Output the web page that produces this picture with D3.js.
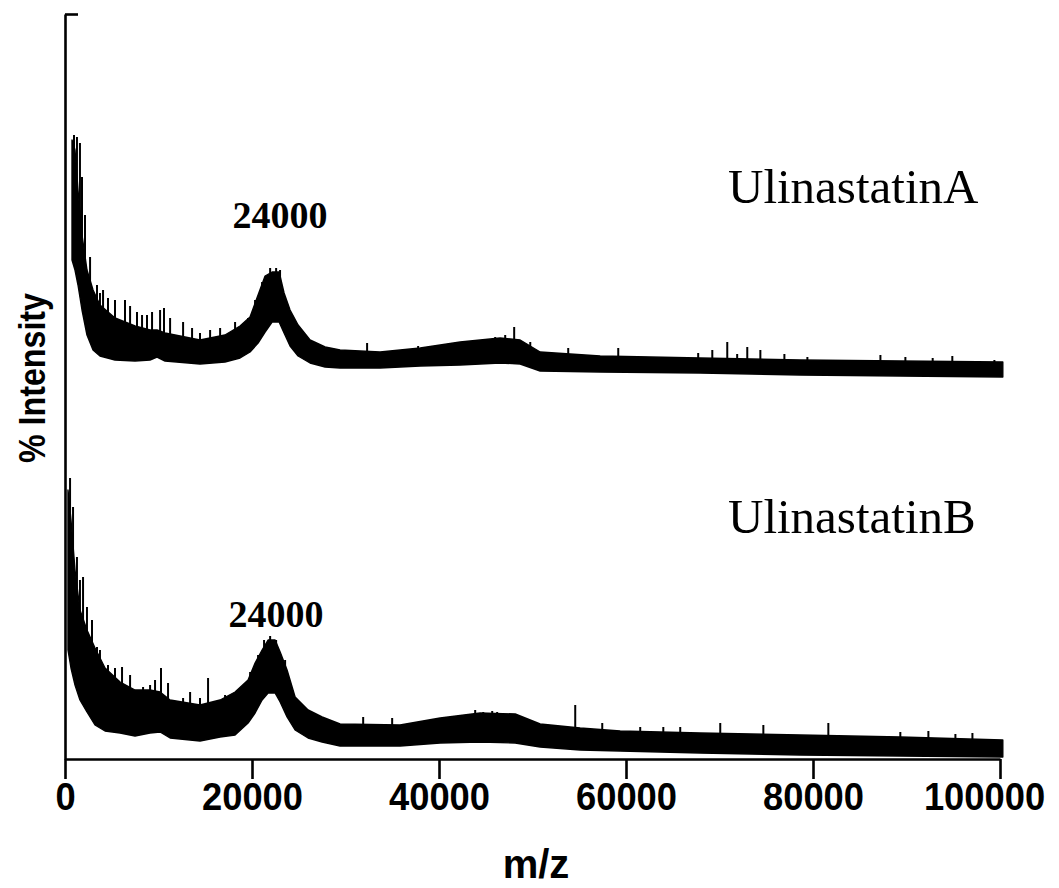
<!DOCTYPE html>
<html lang="en">
<head>
<meta charset="utf-8">
<title>Ulinastatin MALDI spectra</title>
<script src="https://d3js.org/d3.v7.min.js"></script>
<style>
  body { margin: 0; background: #fff; }
  .axis path, .axis line { stroke: #000; stroke-width: 2.6px; }
  .axis text { font-family: "Liberation Sans", Arial, sans-serif; font-weight: bold; font-size: 39px; fill: #000; }
  .trace { fill: #000; stroke: #000; stroke-width: 1.4px; stroke-linejoin: round; }
  .spike { stroke: #000; stroke-width: 2px; }
</style>
</head>
<body>
<svg width="1059" height="888"></svg>
<script>
// x ticks
var xTicks = [0, 20000, 40000, 60000, 80000, 100000];

// Ulinastatin A : band of the trace (upper / lower edge), m/z
var mzA = [750, 1070, 1390, 1820, 2350, 3000, 3740, 5350, 7490, 9090, 9840, 10700, 14440, 17110,
  18720, 19790, 20650, 21400, 22150, 22900, 23430, 24070, 24930, 26210, 27820, 29420, 33700,
  37990, 42260, 46540, 48680, 50820, 57240, 67940, 78640, 89340, 100300];
var hiA = [123.8, 121.8, 113.8, 104.8, 97.8, 93.8, 90.8, 88.2, 86.6, 85.8, 85.8, 85.2, 83.8, 84.8,
  86.6, 88.4, 92.8, 96.6, 97.4, 97.4, 93.2, 89.8, 86.8, 83.8, 82.4, 81.8, 81.4,
  82.2, 83.4, 84.2, 83.8, 81.4, 80.6, 80.2, 79.8, 79.6, 79.4];
var loA = [99.8, 97.8, 94.8, 89.8, 84.8, 81.8, 80.6, 79.8, 79.6, 79.8, 80.4, 79.6, 79.0, 79.4,
  80.2, 81.4, 83.2, 85.4, 87.4, 87.4, 85.2, 82.6, 80.6, 79.2, 78.4, 78.2, 78.2,
  78.6, 78.8, 79.2, 79.0, 77.6, 77.4, 77.2, 76.8, 76.6, 76.4];
// single spikes sticking out of the band: [m/z, top]
var spikesA = [[960, 124.8], [1280, 124.4], [1600, 123.2], [1820, 116.4], [2140, 108.8], [2680, 100.4],
  [3420, 94.8], [3740, 93.2], [4070, 93.8], [4600, 92.2], [5350, 91.8], [6420, 91.8], [6960, 90.6],
  [7700, 89.4], [8240, 88.8], [8770, 88.8], [9310, 89.4], [10170, 89.8], [10590, 90.2], [11240, 88.2],
  [12630, 87.4], [13590, 86.2], [14440, 85.2], [15520, 85.8], [16590, 86.2], [18190, 87.4],
  [19580, 88.2], [20330, 91.8], [21080, 95.4], [21940, 98.2], [22580, 98.2], [23000, 97.8],
  [32310, 83.2], [37770, 82.6], [46010, 84.4], [47080, 84.8], [48040, 86.4], [49760, 83.4],
  [53820, 82.2], [59170, 82.2], [67720, 81.2], [69230, 81.8], [70830, 83.4], [71890, 81.0],
  [72970, 82.4], [74370, 81.8], [76940, 81.0], [79400, 80.4], [87210, 80.8], [89880, 80.4],
  [92800, 80.2], [94900, 80.6], [99400, 79.8]];

// Ulinastatin B
var mzB = [320, 640, 1070, 1600, 2350, 3210, 4280, 5890, 7490, 9090, 10170, 11240, 14440, 16590,
  18190, 19580, 20330, 21080, 21720, 22470, 23010, 23750, 24610, 26000, 27500, 29420, 35840,
  40120, 44400, 48150, 50820, 55100, 59380, 67940, 78640, 89340, 100300];
var hiB = [53.8, 47.8, 37.8, 29.8, 25.8, 22.2, 18.2, 15.4, 13.8, 13.8, 13.4, 11.8, 10.8, 11.8,
  13.4, 15.8, 19.2, 21.8, 23.8, 23.8, 21.4, 17.8, 12.4, 9.8, 8.4, 7.0, 6.8,
  8.2, 9.2, 9.0, 7.0, 6.2, 5.6, 5.2, 4.8, 4.4, 3.8];
var loB = [21.8, 18.2, 14.8, 11.8, 9.4, 6.8, 5.6, 5.2, 4.6, 5.2, 5.4, 4.2, 3.6, 4.4,
  4.8, 7.2, 9.2, 11.8, 13.2, 13.2, 11.4, 8.4, 5.8, 4.2, 3.4, 2.6, 2.6,
  3.2, 3.4, 3.2, 2.4, 1.8, 1.6, 1.2, 0.8, 0.6, 0.4];
var spikesB = [[540, 56.2], [860, 50.4], [1280, 40.4], [1600, 35.8], [1930, 36.4], [2350, 30.4],
  [2890, 27.8], [3420, 22.4], [3740, 21.8], [4600, 18.8], [5350, 18.2], [6100, 18.4], [6960, 16.8],
  [8350, 14.4], [9100, 14.8], [9630, 15.8], [10270, 18.2], [11020, 15.2], [12630, 12.2],
  [13380, 13.4], [14440, 12.2], [15300, 16.2], [17120, 12.8], [18720, 14.2], [19800, 17.4],
  [20650, 20.8], [21290, 23.8], [21940, 24.6], [22580, 23.8], [23540, 19.8],
  [31890, 8.4], [34990, 8.2], [40120, 8.2], [43870, 9.8], [44730, 9.4], [45690, 9.6], [46220, 9.4],
  [48680, 8.4], [54570, 10.8], [57460, 7.2], [61520, 6.4], [63990, 6.4], [65800, 6.4],
  [70080, 7.2], [74690, 6.8], [81640, 7.2], [89340, 5.4], [92340, 5.6], [95230, 5.0], [97050, 5.2]];

// labels of the traces
var traceNames = ["UlinastatinA", "UlinastatinB"];
var peakLabel = "24000";

var svg = d3.select("svg");

var x = d3.scaleLinear().domain([0, 100000]).range([65, 1000]);
var y = d3.scaleLinear().domain([0, 149]).range([759, 14]);

function drawTrace(mz, hi, lo, spikes) {
  var rows = mz.map(function(m, i) { return {mz: m, hi: hi[i], lo: lo[i]}; });
  var area = d3.area()
    .x(function(d) { return x(d.mz); })
    .y0(function(d) { return y(d.lo); })
    .y1(function(d) { return y(d.hi); });
  svg.append("path").datum(rows).attr("class", "trace").attr("d", area);

  // spikes start inside the band
  var base = d3.scaleLinear().domain(mz).range(lo.map(function(v, i) { return (v + hi[i]) / 2; }));
  svg.append("g").selectAll("line")
    .data(spikes)
    .enter().append("line")
    .attr("class", "spike")
    .attr("x1", function(d) { return x(d[0]); })
    .attr("x2", function(d) { return x(d[0]); })
    .attr("y1", function(d) { return y(base(d[0])); })
    .attr("y2", function(d) { return y(d[1]); });
}

drawTrace(mzA, hiA, loA, spikesA);
drawTrace(mzB, hiB, loB, spikesB);

// axes
var xAxis = svg.append("g")
  .attr("class", "axis")
  .attr("transform", "translate(0," + y(0) + ")")
  .call(d3.axisBottom(x).tickValues(xTicks).tickFormat(d3.format("d"))
    .tickSizeInner(20).tickSizeOuter(0).tickPadding(3));
xAxis.selectAll("text")
  .attr("textLength", function(d) { return String(d).length * 20.2; })
  .attr("lengthAdjust", "spacingAndGlyphs")
  .attr("dx", function(d) { return d === 100000 ? -16 : 0; });

svg.append("g")
  .attr("class", "axis")
  .attr("transform", "translate(" + x(0) + ",0)")
  .call(d3.axisLeft(y).tickValues([149]).tickFormat("")
    .tickSizeInner(-13).tickSizeOuter(0));

svg.append("text")
  .attr("transform", "translate(45,378) rotate(-90)")
  .attr("text-anchor", "middle")
  .attr("textLength", 170)
  .attr("lengthAdjust", "spacingAndGlyphs")
  .style("font-family", "Liberation Sans, Arial, sans-serif")
  .style("font-weight", "bold")
  .style("font-size", "36px")
  .text("% Intensity");

svg.append("text")
  .attr("x", 536).attr("y", 878)
  .attr("text-anchor", "middle")
  .style("font-family", "Liberation Sans, Arial, sans-serif")
  .style("font-weight", "bold")
  .style("font-size", "40px")
  .text("m/z");

// names of the two spectra
svg.selectAll(".name")
  .data(traceNames)
  .enter().append("text")
  .attr("class", "name")
  .attr("x", 728)
  .attr("y", function(d, i) { return i === 0 ? 203 : 533; })
  .style("font-family", "Liberation Serif, Times New Roman, serif")
  .style("font-size", "49px")
  .text(function(d) { return d; });

// peak labels
svg.selectAll(".peak")
  .data([{mz: 22900, v: hiA[19]}, {mz: 22470, v: hiB[19]}])
  .enter().append("text")
  .attr("class", "peak")
  .attr("x", function(d) { return x(d.mz) + 1; })
  .attr("y", function(d, i) { return y(d.v) - (i === 0 ? 44 : 13); })
  .attr("text-anchor", "middle")
  .style("font-family", "Liberation Serif, Times New Roman, serif")
  .style("font-weight", "bold")
  .style("font-size", "38px")
  .text(peakLabel);
</script>
</body>
</html>
